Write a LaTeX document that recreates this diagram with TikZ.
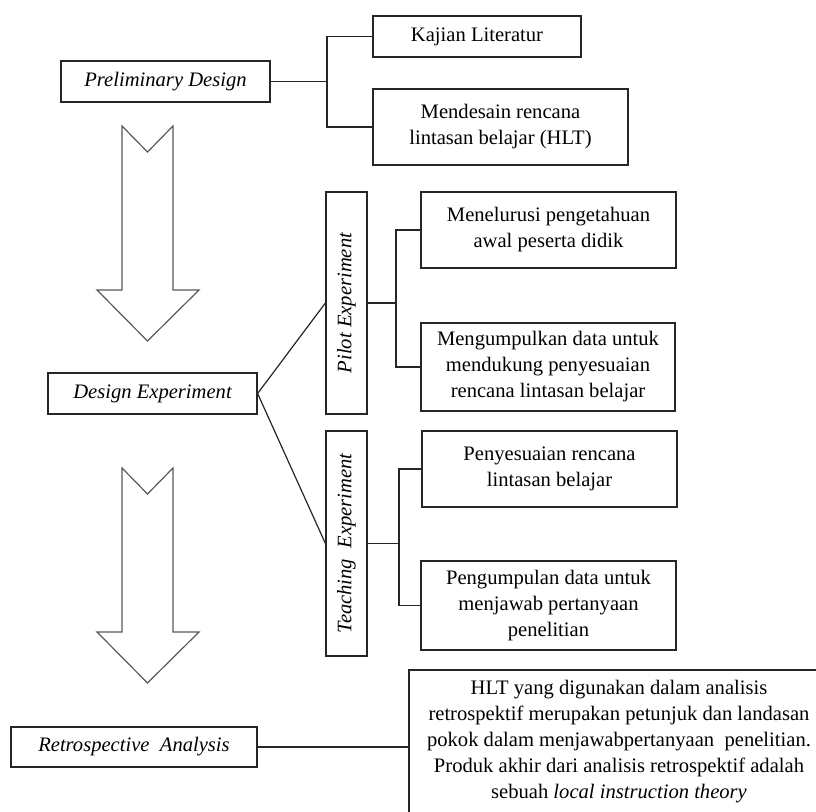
\documentclass[tikz,border=0pt]{standalone}
\usepackage{fontspec}
\setmainfont{Liberation Serif}
\usepackage{tikz}

\tikzset{
  kotak/.style={draw={black!85}, line width=0.6pt, rectangle, align=center, inner sep=2pt, font=\fontsize{10.3}{13}\selectfont},
  tahap/.style={kotak, font=\fontsize{10.3}{13}\selectfont\itshape, minimum width=104.5pt, minimum height=20.5pt},
  sisi/.style={kotak, font=\fontsize{10.3}{13}\selectfont\itshape, rotate=90, minimum height=20.5pt},
  garis/.style={draw={black!85}, line width=0.6pt},
  panah/.style={draw={black!65}, line width=0.6pt, line join=miter},
}

\begin{document}
\begin{tikzpicture}[x=0.5pt, y=-0.5pt]
\path[use as bounding box, clip] (0,0) rectangle (816,812);

% tahap utama
\node[tahap] (prelim) at (165.5,81.5) {Preliminary Design};
\node[tahap] (design) at (152.5,393.5) {Design Experiment};
\node[tahap, minimum width=123pt, minimum height=20pt] (retro) at (134,747) {Retrospective~ Analysis};

% preliminary design
\node[kotak, minimum width=104pt, minimum height=20.5pt] (kajian) at (477,36.5) {Kajian Literatur};
\node[kotak, minimum width=127.5pt, minimum height=38pt] (hlt) at (500.5,127) {Mendesain rencana\\lintasan belajar (HLT)};

% design experiment
\node[sisi, minimum width=111pt] (pilot) at (346.5,303) {Pilot Experiment};
\node[sisi, minimum width=112.5pt] (teaching) at (346.5,543.5) {Teaching~ Experiment};

\node[kotak, minimum width=127.5pt, minimum height=38pt] (telusur) at (548.5,230) {Menelurusi pengetahuan\\awal peserta didik};
\node[kotak, minimum width=127pt, minimum height=44pt] (kumpul) at (548,367) {Mengumpulkan data untuk\\mendukung penyesuaian\\rencana lintasan belajar};
\node[kotak, minimum width=127.5pt, minimum height=38pt] (sesuai) at (549.5,469) {Penyesuaian rencana\\lintasan belajar};
\node[kotak, minimum width=127.5pt, minimum height=44.5pt] (jawab) at (548.5,605.5) {Pengumpulan data untuk\\menjawab pertanyaan\\penelitian};

% retrospective analysis
\node[kotak, minimum width=210pt, minimum height=72pt] (teori) at (619,742) {HLT yang digunakan dalam analisis\\retrospektif merupakan petunjuk dan landasan\\pokok dalam menjawabpertanyaan~ penelitian.\\Produk akhir dari analisis retrospektif adalah\\sebuah \textit{local instruction theory}};

% panah besar
\foreach \t in {126,468}{
  \draw[panah] (122,\t) -- (147.5,\t+26) -- (173,\t) -- (173,\t+164) -- (199,\t+164)
    -- (147.5,\t+215) -- (97,\t+164) -- (122,\t+164) -- cycle;
}

% garis penghubung
\coordinate (jA) at (327,81.5);
\coordinate (jB) at (396,303);
\coordinate (jC) at (399,543.5);

\draw[garis] (prelim.east) -- (jA);
\draw[garis] (kajian.west) -| (jA) |- (hlt.west);

\draw[garis] (design.east) -- (pilot.north);
\draw[garis] (design.east) -- (teaching.north);

\draw[garis] (pilot.south) -- (jB);
\draw[garis] (telusur.west) -| (jB) |- (kumpul.west);

\draw[garis] (teaching.south) -- (jC);
\draw[garis] (sesuai.west) -| (jC) |- (jawab.west);

\draw[garis] (retro.east) -- (retro.east -| teori.west);
\end{tikzpicture}
\end{document}
